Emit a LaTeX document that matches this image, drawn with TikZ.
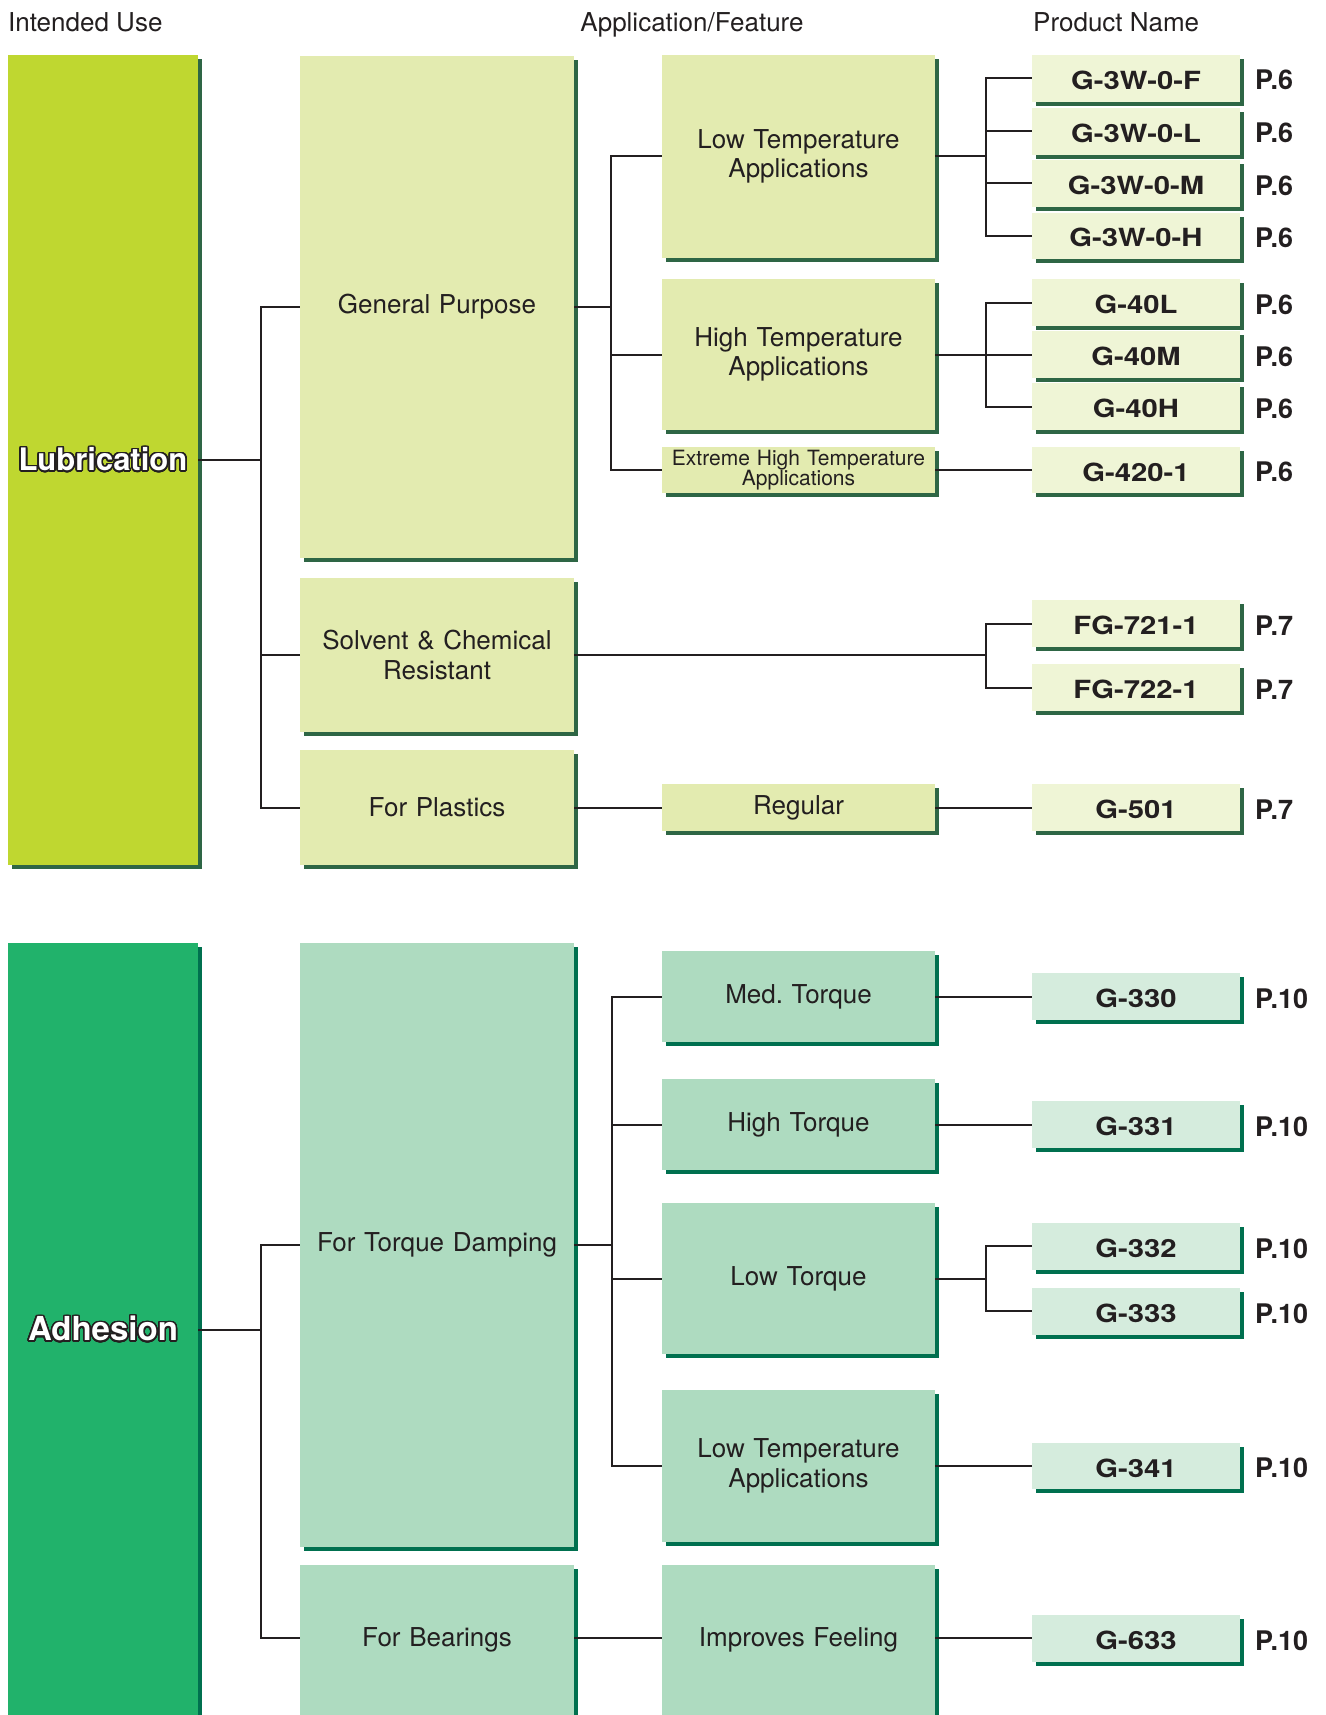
\documentclass[tikz,border=0pt]{standalone}
\usepackage{fontspec}
\setmainfont{TeX Gyre Heros}
\newfontfamily\greaseProdFont[FakeStretch=1.17]{TeX Gyre Heros}
\usepackage{contour}
\contourlength{1.6pt}
\contournumber{32}
\usetikzlibrary{shadows}

\definecolor{greaseInk}{HTML}{231F20}
\definecolor{lubeMain}{HTML}{BFD730}
\definecolor{lubeMid}{HTML}{E3EBB0}
\definecolor{lubeLight}{HTML}{EFF5D6}
\definecolor{lubeEdge}{HTML}{2E6645}
\definecolor{adhMain}{HTML}{21B26B}
\definecolor{adhMid}{HTML}{AEDBC0}
\definecolor{adhLight}{HTML}{D5ECDD}
\definecolor{adhEdge}{HTML}{00704F}

\begin{document}
\begin{tikzpicture}[
    x=1pt, y=-1pt,
    greaseBoxStyle/.style={rectangle, inner sep=0pt, align=center, text=greaseInk},
    greaseUseStyle/.style={greaseBoxStyle, minimum width=190pt, text width=186pt,
        text=white, font=\bfseries\fontsize{31}{31}\selectfont},
    greaseCatStyle/.style={greaseBoxStyle, minimum width=274pt, text width=262pt,
        font=\fontsize{26}{29.7}\selectfont},
    greaseFeatStyle/.style={greaseBoxStyle, minimum width=273pt, text width=262pt,
        font=\fontsize{26}{29.7}\selectfont},
    greaseProdStyle/.style={greaseBoxStyle, minimum width=208pt, minimum height=46.5pt,
        text width=200pt, text height=22pt, text depth=0pt,
        font=\greaseProdFont\bfseries\fontsize{25}{25}\selectfont},
    greasePageStyle/.style={anchor=base west, inner sep=0pt, text=greaseInk,
        font=\bfseries\fontsize{27}{27}\selectfont},
    greaseHeadStyle/.style={anchor=base west, inner sep=0pt, text=greaseInk,
        font=\fontsize{26}{26}\selectfont},
    greaseLinkStyle/.style={draw=greaseInk, line width=2pt},
    greaseLube/.style={drop shadow={shadow xshift=4pt, shadow yshift=-4pt,
        opacity=1, fill=lubeEdge}},
    greaseAdh/.style={drop shadow={shadow xshift=4pt, shadow yshift=-4pt,
        opacity=1, fill=adhEdge}},
    greaseOpenStyle/.style={anchor=north, text height=81pt, text depth=115pt}
]
    \useasboundingbox (0,0) rectangle (1325,1715);
    \clip (0,0) rectangle (1325,1715);

    % column headers
    \node[greaseHeadStyle] (hUse) at (8,31.5) {Intended Use};
    \node[greaseHeadStyle, anchor=base] (hFeat) at (692,31.5) {Application/Feature};
    \node[greaseHeadStyle] (hProd) at (1033,31.5) {Product Name};

    % Lubrication
    \node[greaseUseStyle, greaseLube, fill=lubeMain, minimum height=810pt]
        (lube) at (103,460) {\contour{greaseInk}{Lubrication}};
    \node[greaseCatStyle, greaseLube, fill=lubeMid, minimum height=502pt]
        (gp) at (437,307) {General Purpose};
    \node[greaseCatStyle, greaseLube, fill=lubeMid, minimum height=154pt]
        (solv) at (437,655) {Solvent \& Chemical\\Resistant};
    \node[greaseCatStyle, greaseLube, fill=lubeMid, minimum height=115pt]
        (plast) at (437,807.5) {For Plastics};

    \node[greaseFeatStyle, greaseLube, fill=lubeMid, minimum height=203pt]
        (lowt) at (798.5,156.5) {Low Temperature\\Applications};
    \node[greaseFeatStyle, greaseLube, fill=lubeMid, minimum height=151pt]
        (hight) at (798.5,354.5) {High Temperature\\Applications};
    \node[greaseFeatStyle, greaseLube, fill=lubeMid, minimum height=46pt,
        font=\fontsize{21}{20.7}\selectfont]
        (extr) at (798.5,470) {Extreme High Temperature\\Applications};
    \node[greaseFeatStyle, greaseLube, fill=lubeMid, minimum height=46.5pt]
        (reg) at (798.5,807.5) {Regular};

    \foreach \pid/\py/\ptxt/\ppage in {pF/78.3/G-3W-0-F/6, pL/131.3/G-3W-0-L/6,
        pM/183.5/G-3W-0-M/6, pH/235.8/G-3W-0-H/6, p40L/302.5/G-40L/6,
        p40M/354.5/G-40M/6, p40H/406.5/G-40H/6, p420/470/G-420-1/6,
        p721/623.5/FG-721-1/7, p722/687.5/FG-722-1/7, p501/807.5/G-501/7} {
        \node[greaseProdStyle, greaseLube, fill=lubeLight] (\pid) at (1136,\py) {\ptxt};
        \node[greasePageStyle] (\pid pg) at (1255,\py+11.7) {P.\ppage};
    }

    % Adhesion
    \node[greaseUseStyle, greaseAdh, fill=adhMain, minimum height=773pt,
        font=\bfseries\fontsize{33}{33}\selectfont]
        (adh) at (103,1329.5) {\contour{greaseInk}{Adhesion}};
    \node[greaseCatStyle, greaseAdh, fill=adhMid, minimum height=603.7pt]
        (ftd) at (437,1244.8) {For Torque Damping};
    \node[greaseCatStyle, greaseAdh, fill=adhMid, greaseOpenStyle]
        (bear) at (437,1565) {For Bearings};

    \node[greaseFeatStyle, greaseAdh, fill=adhMid, minimum height=91pt]
        (medt) at (798.5,996.5) {Med.\ Torque};
    \node[greaseFeatStyle, greaseAdh, fill=adhMid, minimum height=91pt]
        (hitq) at (798.5,1124.5) {High Torque};
    \node[greaseFeatStyle, greaseAdh, fill=adhMid, minimum height=151pt]
        (lowtq) at (798.5,1278.8) {Low Torque};
    \node[greaseFeatStyle, greaseAdh, fill=adhMid, minimum height=151.4pt]
        (lowt2) at (798.5,1466) {Low Temperature\\Applications};
    \node[greaseFeatStyle, greaseAdh, fill=adhMid, greaseOpenStyle]
        (impf) at (798.5,1565) {Improves Feeling};

    \foreach \pid/\py/\ptxt in {p330/996.5/G-330, p331/1124.5/G-331,
        p332/1246.3/G-332, p333/1311.3/G-333, p341/1466/G-341, p633/1638.3/G-633} {
        \node[greaseProdStyle, greaseAdh, fill=adhLight] (\pid) at (1136,\py) {\ptxt};
        \node[greasePageStyle] (\pid pg) at (1255,\py+11.7) {P.10};
    }

    % bus lines
    \coordinate (useBus) at (261,0);
    \coordinate (gpBus) at (611,0);
    \coordinate (ftdBus) at (612,0);
    \coordinate (prodBus) at (986,0);

    % Lubrication connectors
    \draw[greaseLinkStyle] (lube.east) -- (lube.east -| useBus);
    \draw[greaseLinkStyle] (gp.west) -| (useBus |- plast.west) -- (plast.west);
    \draw[greaseLinkStyle] (solv.west) -- (solv.west -| useBus);

    \draw[greaseLinkStyle] (gp.east) -- (gp.east -| gpBus);
    \draw[greaseLinkStyle] (lowt.west) -| (gpBus |- extr.west) -- (extr.west);
    \draw[greaseLinkStyle] (hight.west) -- (hight.west -| gpBus);

    \draw[greaseLinkStyle] (lowt.east) -- (lowt.east -| prodBus);
    \draw[greaseLinkStyle] (pF.west) -| (prodBus |- pH.west) -- (pH.west);
    \draw[greaseLinkStyle] (pL.west) -- (pL.west -| prodBus);
    \draw[greaseLinkStyle] (pM.west) -- (pM.west -| prodBus);

    \draw[greaseLinkStyle] (hight.east) -- (p40M.west);
    \draw[greaseLinkStyle] (p40L.west) -| (prodBus |- p40H.west) -- (p40H.west);

    \draw[greaseLinkStyle] (extr.east) -- (p420.west);

    \draw[greaseLinkStyle] (solv.east) -- (solv.east -| prodBus);
    \draw[greaseLinkStyle] (p721.west) -| (prodBus |- p722.west) -- (p722.west);

    \draw[greaseLinkStyle] (plast.east) -- (reg.west);
    \draw[greaseLinkStyle] (reg.east) -- (p501.west);

    % Adhesion connectors
    \draw[greaseLinkStyle] (adh.east) -- (adh.east -| useBus);
    \draw[greaseLinkStyle] (ftd.west) -| (useBus |- p633.west) -- (bear.west |- p633.west);

    \draw[greaseLinkStyle] (ftd.east) -- (ftd.east -| ftdBus);
    \draw[greaseLinkStyle] (medt.west) -| (ftdBus |- lowt2.west) -- (lowt2.west);
    \draw[greaseLinkStyle] (hitq.west) -- (hitq.west -| ftdBus);
    \draw[greaseLinkStyle] (lowtq.west) -- (lowtq.west -| ftdBus);

    \draw[greaseLinkStyle] (medt.east) -- (p330.west);
    \draw[greaseLinkStyle] (hitq.east) -- (p331.west);
    \draw[greaseLinkStyle] (lowtq.east) -- (lowtq.east -| prodBus);
    \draw[greaseLinkStyle] (p332.west) -| (prodBus |- p333.west) -- (p333.west);
    \draw[greaseLinkStyle] (lowt2.east) -- (p341.west);

    \draw[greaseLinkStyle] (bear.east |- p633.west) -- (impf.west |- p633.west);
    \draw[greaseLinkStyle] (impf.east |- p633.west) -- (p633.west);
\end{tikzpicture}
\end{document}
